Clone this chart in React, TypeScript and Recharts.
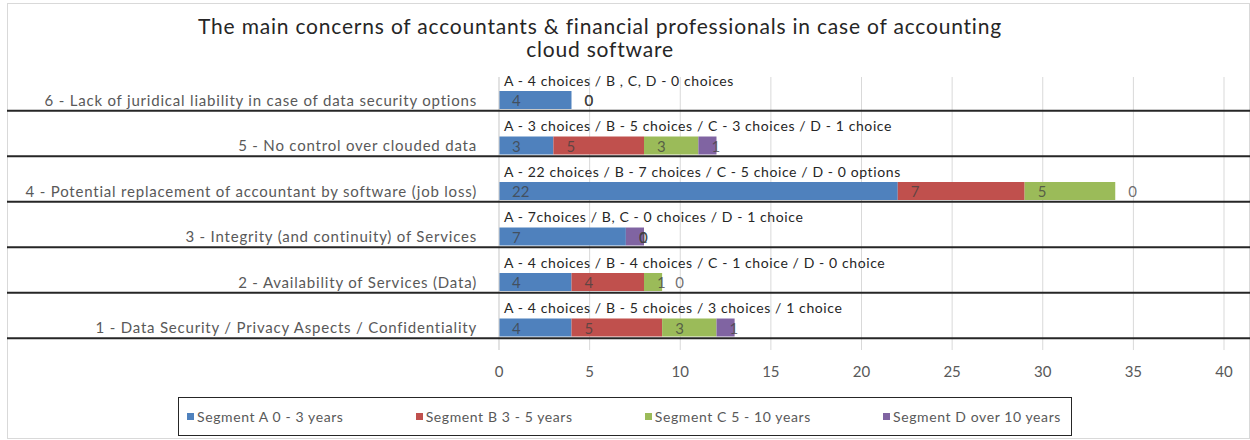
import { BarChart, Bar, XAxis, YAxis, CartesianGrid, LabelList, Legend } from "recharts";

const FONT = "Lato, 'Liberation Sans', sans-serif";

// top to bottom, as the chart shows them
const concerns = [
  "6 - Lack of juridical liability in case of data security options",
  "5 - No control over clouded data",
  "4 - Potential replacement of accountant by software (job loss)",
  "3 - Integrity (and continuity) of Services",
  "2 - Availability of Services (Data)",
  "1 - Data Security / Privacy Aspects / Confidentiality",
];

const notes = [
  "A - 4 choices / B , C, D - 0 choices",
  "A - 3 choices / B - 5 choices / C - 3 choices / D - 1 choice",
  "A - 22 choices / B - 7 choices / C - 5 choice / D - 0 options",
  "A - 7choices / B, C - 0 choices / D - 1 choice",
  "A - 4 choices / B - 4 choices / C - 1 choice / D - 0 choice",
  "A - 4 choices / B - 5 choices / 3 choices / 1 choice",
];

const segA = [4, 3, 22, 7, 4, 4];
const segB = [0, 5, 7, 0, 4, 5];
const segC = [0, 3, 5, 0, 1, 3];
const segD = [0, 1, 0, 1, 0, 1];

const segments = [
  { key: "a", name: "Segment A 0 - 3 years", color: "#4F81BD" },
  { key: "b", name: "Segment B 3 - 5 years", color: "#C0504D" },
  { key: "c", name: "Segment C 5 - 10 years", color: "#9BBB59" },
  { key: "d", name: "Segment D over 10 years", color: "#8064A2" },
];

const xTicks = [0, 5, 10, 15, 20, 25, 30, 35, 40];

const titleLines = [
  "The main concerns of accountants & financial professionals in case of accounting",
  "cloud software",
];

const data = concerns.map((concern, i) => ({
  concern,
  note: notes[i],
  a: segA[i],
  b: segB[i],
  c: segC[i],
  d: segD[i],
}));

function ConcernTick({ x, y, payload }: any) {
  return (
    <g>
      <text
        x={x - 14}
        y={y}
        textAnchor="end"
        dominantBaseline="central"
        fontSize={15}
        letterSpacing={0.8}
        fill="#595959"
        fontFamily={FONT}
      >
        {payload.value}
      </text>
      <line x1={7} x2={1250} y1={y + 11} y2={y + 11} stroke="#262626" strokeWidth={2} />
    </g>
  );
}

const valueStyle = {
  fontSize: 15,
  fill: "#404040",
  fillOpacity: 0.75,
  fontFamily: FONT,
};

// note above the bar, plus the "0" labels of empty segments (recharts skips zero-width bars)
function NoteLabel({ x, y, width, height, value }: any) {
  const i = notes.indexOf(value);
  const unit = width / segA[i];
  const rowVals = [segA[i], segB[i], segC[i], segD[i]];
  const zeros: number[] = [];
  let acc = 0;
  rowVals.forEach((v) => {
    if (v === 0) zeros.push(acc);
    acc += v;
  });
  return (
    <g>
      <text
        x={x + 5}
        y={y - 11}
        dominantBaseline="central"
        fontSize={14}
        letterSpacing={0.6}
        fill="#262626"
        fontFamily={FONT}
      >
        {value}
      </text>
      {zeros.map((start, k) => (
        <text key={k} x={x + start * unit + 13} y={y + height / 2} dominantBaseline="central" {...valueStyle}>
          0
        </text>
      ))}
    </g>
  );
}

function ValueLabel({ x, y, height, value }: any) {
  return (
    <text x={x + 13} y={y + height / 2} dominantBaseline="central" {...valueStyle}>
      {value}
    </text>
  );
}

function LegendBox() {
  return (
    <div
      style={{
        boxSizing: "border-box",
        height: 39,
        border: "1.5px solid #262626",
        display: "flex",
        alignItems: "center",
        justifyContent: "space-between",
        padding: "0 10px 0 8px",
        fontFamily: FONT,
        fontSize: 14,
        letterSpacing: 0.6,
        color: "#595959",
        background: "#fff",
      }}
    >
      {segments.map((s) => (
        <span key={s.key} style={{ display: "flex", alignItems: "center" }}>
          <span style={{ width: 7, height: 7, background: s.color, marginRight: 3, display: "inline-block" }} />
          {s.name}
        </span>
      ))}
    </div>
  );
}

export default function App() {
  return (
    <div
      style={{
        position: "absolute",
        left: 0,
        top: 0,
        width: 1250,
        height: 440,
        background: "#fff",
        fontFamily: FONT,
      }}
    >
      <div
        style={{
          position: "absolute",
          left: 7,
          top: 3,
          width: 1241,
          height: 434,
          border: "1px solid #d9d9d9",
        }}
      />
      {titleLines.map((line, i) => (
        <div
          key={line}
          style={{
            position: "absolute",
            left: 100,
            width: 1000,
            top: 15 + i * 23,
            textAlign: "center",
            fontSize: 21,
            letterSpacing: 0.8,
            lineHeight: "22px",
            color: "#262626",
          }}
        >
          {line}
        </div>
      ))}
      <div style={{ position: "absolute", left: 0, top: 0 }}>
        <BarChart
          width={1250}
          height={440}
          data={data}
          layout="vertical"
          margin={{ top: 77, right: 26, bottom: 11, left: 0 }}
          barSize={18}
        >
          <CartesianGrid horizontal={false} stroke="#d9d9d9" />
          <XAxis
            type="number"
            domain={[0, 40]}
            ticks={xTicks}
            axisLine={false}
            tickLine={false}
            height={40}
            tickMargin={10}
            tick={{ fontSize: 15, fill: "#595959", fontFamily: FONT }}
          />
          <YAxis
            type="category"
            dataKey="concern"
            width={499}
            axisLine={{ stroke: "#d9d9d9" }}
            tickLine={false}
            tick={<ConcernTick />}
          />
          <Legend
            content={<LegendBox />}
            verticalAlign="bottom"
            wrapperStyle={{ left: 178, width: 894, bottom: 4 }}
          />
          {segments.map((s, i) => (
            <Bar key={s.key} dataKey={s.key} name={s.name} stackId="all" fill={s.color} isAnimationActive={false}>
              <LabelList dataKey={s.key} content={<ValueLabel />} />
              {i === 0 && <LabelList dataKey="note" content={<NoteLabel />} />}
            </Bar>
          ))}
        </BarChart>
      </div>
    </div>
  );
}
